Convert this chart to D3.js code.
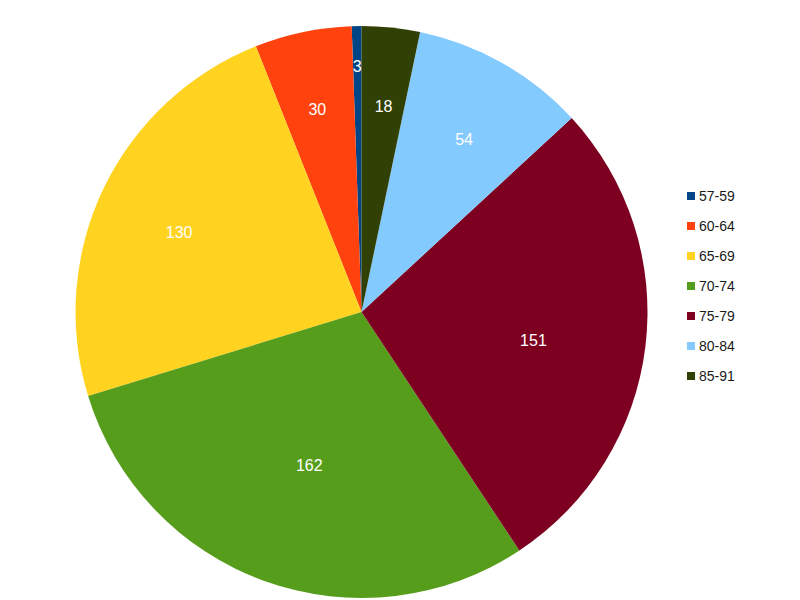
<!DOCTYPE html>
<html>
<head>
<meta charset="utf-8">
<script src="https://cdn.jsdelivr.net/npm/d3@7"></script>
<style>
  body { margin: 0; background: #fff; }
  svg { display: block; font-family: "Liberation Sans", Arial, sans-serif; }
</style>
</head>
<body>
<svg id="chart" width="800" height="600"></svg>
<script>
const categories = ["57-59", "60-64", "65-69", "70-74", "75-79", "80-84", "85-91"];
const values = [3, 30, 130, 162, 151, 54, 18];
const colors = ["#004586", "#ff420e", "#ffd320", "#579d1c", "#7e0021", "#83caff", "#314004"];

const svg = d3.select("#chart");
const cx = 361.5, cy = 312, R = 286;

const data = categories.map((c, i) => ({ cat: c, value: values[i], color: colors[i] }));

const pie = d3.pie().value(d => d.value).sort(null).startAngle(0).endAngle(-2 * Math.PI);
const arcs = pie(data);
const arc = d3.arc().innerRadius(0).outerRadius(R);

const g = svg.append("g").attr("transform", `translate(${cx},${cy})`);

g.selectAll("path.slice").data(arcs).enter().append("path")
  .attr("class", "slice")
  .attr("d", arc)
  .attr("fill", d => d.data.color);

function labelPos(d) {
  const m = (d.startAngle + d.endAngle) / 2;
  const span = Math.abs(d.endAngle - d.startAngle);
  const theta = -m; // counterclockwise from top
  let r;
  if (span < 0.1) {
    r = R * 0.888;
  } else {
    r = 183 + 32 * Math.cos(theta) + 6 * Math.sin(theta);
  }
  return [r * Math.sin(m), -r * Math.cos(m) + 8];
}

g.selectAll("text.lbl").data(arcs).enter().append("text")
  .attr("class", "lbl")
  .attr("x", d => labelPos(d)[0])
  .attr("y", d => labelPos(d)[1])
  .attr("text-anchor", "middle")
  .attr("dominant-baseline", "central")
  .attr("fill", "#ffffff")
  .attr("font-size", 16)
  .text(d => d.data.value);

// Legend
const legend = svg.append("g").attr("transform", "translate(687,196)");
const items = legend.selectAll("g").data(data).enter().append("g")
  .attr("transform", (d, i) => `translate(0,${i * 30})`);
items.append("rect")
  .attr("x", 0).attr("y", -4).attr("width", 8).attr("height", 8)
  .attr("fill", d => d.color);
items.append("text")
  .attr("x", 12).attr("y", 0)
  .attr("dominant-baseline", "central")
  .attr("font-size", 14)
  .attr("fill", "#1a1a1a")
  .text(d => d.cat);
</script>
</body>
</html>
